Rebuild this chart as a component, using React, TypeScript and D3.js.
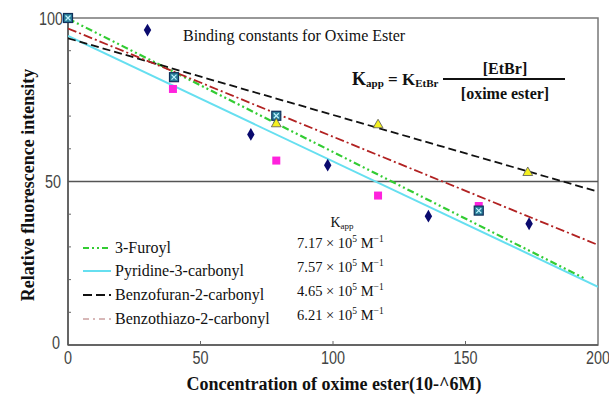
import React from "react";
import * as d3 from "d3";

// ---- data ----
const xTicks = [0, 50, 100, 150, 200];
const yTicks = [0, 50, 100];
const yMinorTicks = [10, 20, 30, 40, 60, 70, 80, 90];

const diamondX = [30, 69, 98, 136, 174];
const diamondY = [96.3, 64.4, 55, 39.4, 37.1];
const magentaX = [39.6, 78.6, 117, 155];
const magentaY = [78.3, 56.4, 45.7, 42.5];
const tealX = [0, 40, 78.6, 155];
const tealY = [100, 81.9, 70.1, 41.1];
const triX = [78.6, 117, 173.5];
const triY = [67.6, 67.3, 52.7];

const fitNames = ["3-Furoyl", "Pyridine-3-carbonyl", "Benzofuran-2-carbonyl", "Benzothiazo-2-carbonyl"];
const fitX0 = [0, 0, 0, 0];
const fitY0 = [99.8, 94.5, 93.8, 96.8];
const fitX1 = [195, 200, 200, 200];
const fitY1 = [20.3, 17.8, 46.9, 30.6];
const kappValues = ["7.17", "7.57", "4.65", "6.21"];

const lineColors = ["#33cc33", "#66dff0", "#111111", "#b22222"];
const lineDash = ["7,3,2,3,2,3", "", "8,4", "9,3,2,3"];
const lineWidths = [2.2, 2, 1.8, 1.8];
const legendColors = ["#33cc33", "#66dff0", "#111111", "#b07070"];
const legendDash = ["6,3,2,3,2,3", "", "9,4", "6,4,2,4"];
const legendWidths = [2, 2, 2, 1];

export default function App() {
  const W = 609, H = 395;
  const left = 68, right = 598, top = 18, bottom = 345;
  const x = d3.scaleLinear().domain([0, 200]).range([left, right]);
  const y = d3.scaleLinear().domain([0, 100]).range([bottom, top]);
  const line = d3.line<[number, number]>().x(d => x(d[0])).y(d => y(d[1]));
  const serif = "Liberation Serif, DejaVu Serif, Times New Roman, Times, serif";
  const sans = "Liberation Sans, Arial, sans-serif";
  const legendRows = [248, 271, 295, 319];
  const kRows = [243, 267, 291, 315];

  const diamond = d3.symbol().type(d3.symbolDiamond).size(48)();
  const tri = d3.symbol().type(d3.symbolTriangle).size(42)();

  return (
    <svg width={W} height={H} style={{ position: "absolute", left: 0, top: 0, background: "#fff" }}>
      <defs>
        <clipPath id="plot">
          <rect x={left} y={top} width={right - left} height={bottom - top} />
        </clipPath>
      </defs>
      {/* frame */}
      <rect x={left} y={top} width={right - left} height={bottom - top} fill="none" stroke="#777" strokeWidth={1.5} />
      {/* 50 line */}
      <line x1={left} x2={right} y1={y(50)} y2={y(50)} stroke="#555" strokeWidth={1.5} />
      {/* axes */}
      <line x1={left} x2={left} y1={top} y2={bottom} stroke="#555" strokeWidth={1.5} />
      <line x1={left} x2={right} y1={bottom} y2={bottom} stroke="#555" strokeWidth={1.5} />
      {yMinorTicks.map(t => (
        <line key={"ym" + t} x1={left} x2={left + 3} y1={y(t)} y2={y(t)} stroke="#666" strokeWidth={1} />
      ))}
      {xTicks.slice(1, -1).map(t => (
        <line key={"xt" + t} x1={x(t)} x2={x(t)} y1={bottom} y2={bottom - 4} stroke="#666" strokeWidth={1} />
      ))}
      {yTicks.map(t => (
        <text key={"yl" + t}
          transform={`translate(${left - 5 - (t === 0 ? 3 : t === 50 ? 2 : 0)},${y(t) + 6.5 - (t === 0 ? 3 : 0)}) scale(0.8,1)`}
          textAnchor="end" fontFamily={sans} fontSize={18} fill="#444">{t}</text>
      ))}
      {xTicks.map(t => (
        <text key={"xl" + t} transform={`translate(${x(t)},364) scale(0.8,1)`} textAnchor="middle"
          fontFamily={sans} fontSize={18} fill="#444">{t}</text>
      ))}
      {/* axis titles */}
      <text x={334} y={390} textAnchor="middle" fontFamily={serif} fontWeight="bold" fontSize={18} fill="#111">
        Concentration of oxime ester(10-^6M)
      </text>
      <text transform="translate(34,185) rotate(-90)" textAnchor="middle" fontFamily={serif} fontWeight="bold" fontSize={18} fill="#111">
        Relative fluorescence intensity
      </text>

      {/* fit lines */}
      <g clipPath="url(#plot)">
        {fitNames.map((n, i) => (
          <path key={n} d={line([[fitX0[i], fitY0[i]], [fitX1[i], fitY1[i]]]) || ""} fill="none"
            stroke={lineColors[i]} strokeWidth={lineWidths[i]} strokeDasharray={lineDash[i]} />
        ))}
      </g>

      {/* markers */}
      {diamondX.map((v, i) => (
        <path key={"d" + i} d={diamond || ""} transform={`translate(${x(v)},${y(diamondY[i])})`} fill="#0a0a6e" />
      ))}
      {magentaX.map((v, i) => (
        <rect key={"m" + i} x={x(v) - 4} y={y(magentaY[i]) - 4} width={8} height={8} fill="#ff22dd" />
      ))}
      {tealX.map((v, i) => (
        <g key={"t" + i} transform={`translate(${x(v)},${y(tealY[i])})`}>
          <rect x={-4.5} y={-4.5} width={9} height={9} fill="#2a7f9a" stroke="#10305a" strokeWidth={1.2} />
          <path d="M-2.5,-2.5L2.5,2.5M2.5,-2.5L-2.5,2.5" stroke="#bff4ff" strokeWidth={1.2} />
        </g>
      ))}
      {triX.map((v, i) => (
        <path key={"tr" + i} d={tri || ""} transform={`translate(${x(v)},${y(triY[i])})`} fill="#f4f020" stroke="#555" strokeWidth={0.8} />
      ))}

      {/* title */}
      <text x={183} y={41} fontFamily={serif} fontSize={16} fill="#111">Binding constants for Oxime Ester</text>

      {/* formula */}
      <text x={352} y={85} fontFamily={serif} fontWeight="bold" fontSize={18} fill="#111">
        K<tspan fontSize={11} dy={2}>app</tspan><tspan dy={-2} fontSize={17}> = K</tspan><tspan fontSize={11} dy={2}>EtBr</tspan>
      </text>
      <line x1={443} x2={565} y1={79} y2={79} stroke="#111" strokeWidth={1.8} />
      <text x={505} y={74} textAnchor="middle" fontFamily={serif} fontWeight="bold" fontSize={16} fill="#111">[EtBr]</text>
      <text x={505} y={99} textAnchor="middle" fontFamily={serif} fontWeight="bold" fontSize={16} fill="#111">[oxime ester]</text>

      {/* legend */}
      {fitNames.map((n, i) => (
        <g key={"lg" + n}>
          <line x1={83} x2={111} y1={legendRows[i]} y2={legendRows[i]} stroke={legendColors[i]}
            strokeWidth={legendWidths[i]} strokeDasharray={legendDash[i]} />
          <text x={115} y={legendRows[i] + 5} fontFamily={serif} fontSize={16} fill="#111">{n}</text>
        </g>
      ))}
      <text x={342} y={227} textAnchor="middle" fontFamily={serif} fontSize={14} fill="#111">
        K<tspan fontSize={9} dy={2}>app</tspan>
      </text>
      {kappValues.map((k, i) => (
        <text key={"k" + i} x={297} y={kRows[i] + 5} fontFamily={serif} fontSize={14.5} fill="#111">
          {k} × 10<tspan fontSize={9.5} dy={-6}>5</tspan><tspan dy={6}> M</tspan><tspan fontSize={9.5} dy={-6}>−1</tspan>
        </text>
      ))}
    </svg>
  );
}
